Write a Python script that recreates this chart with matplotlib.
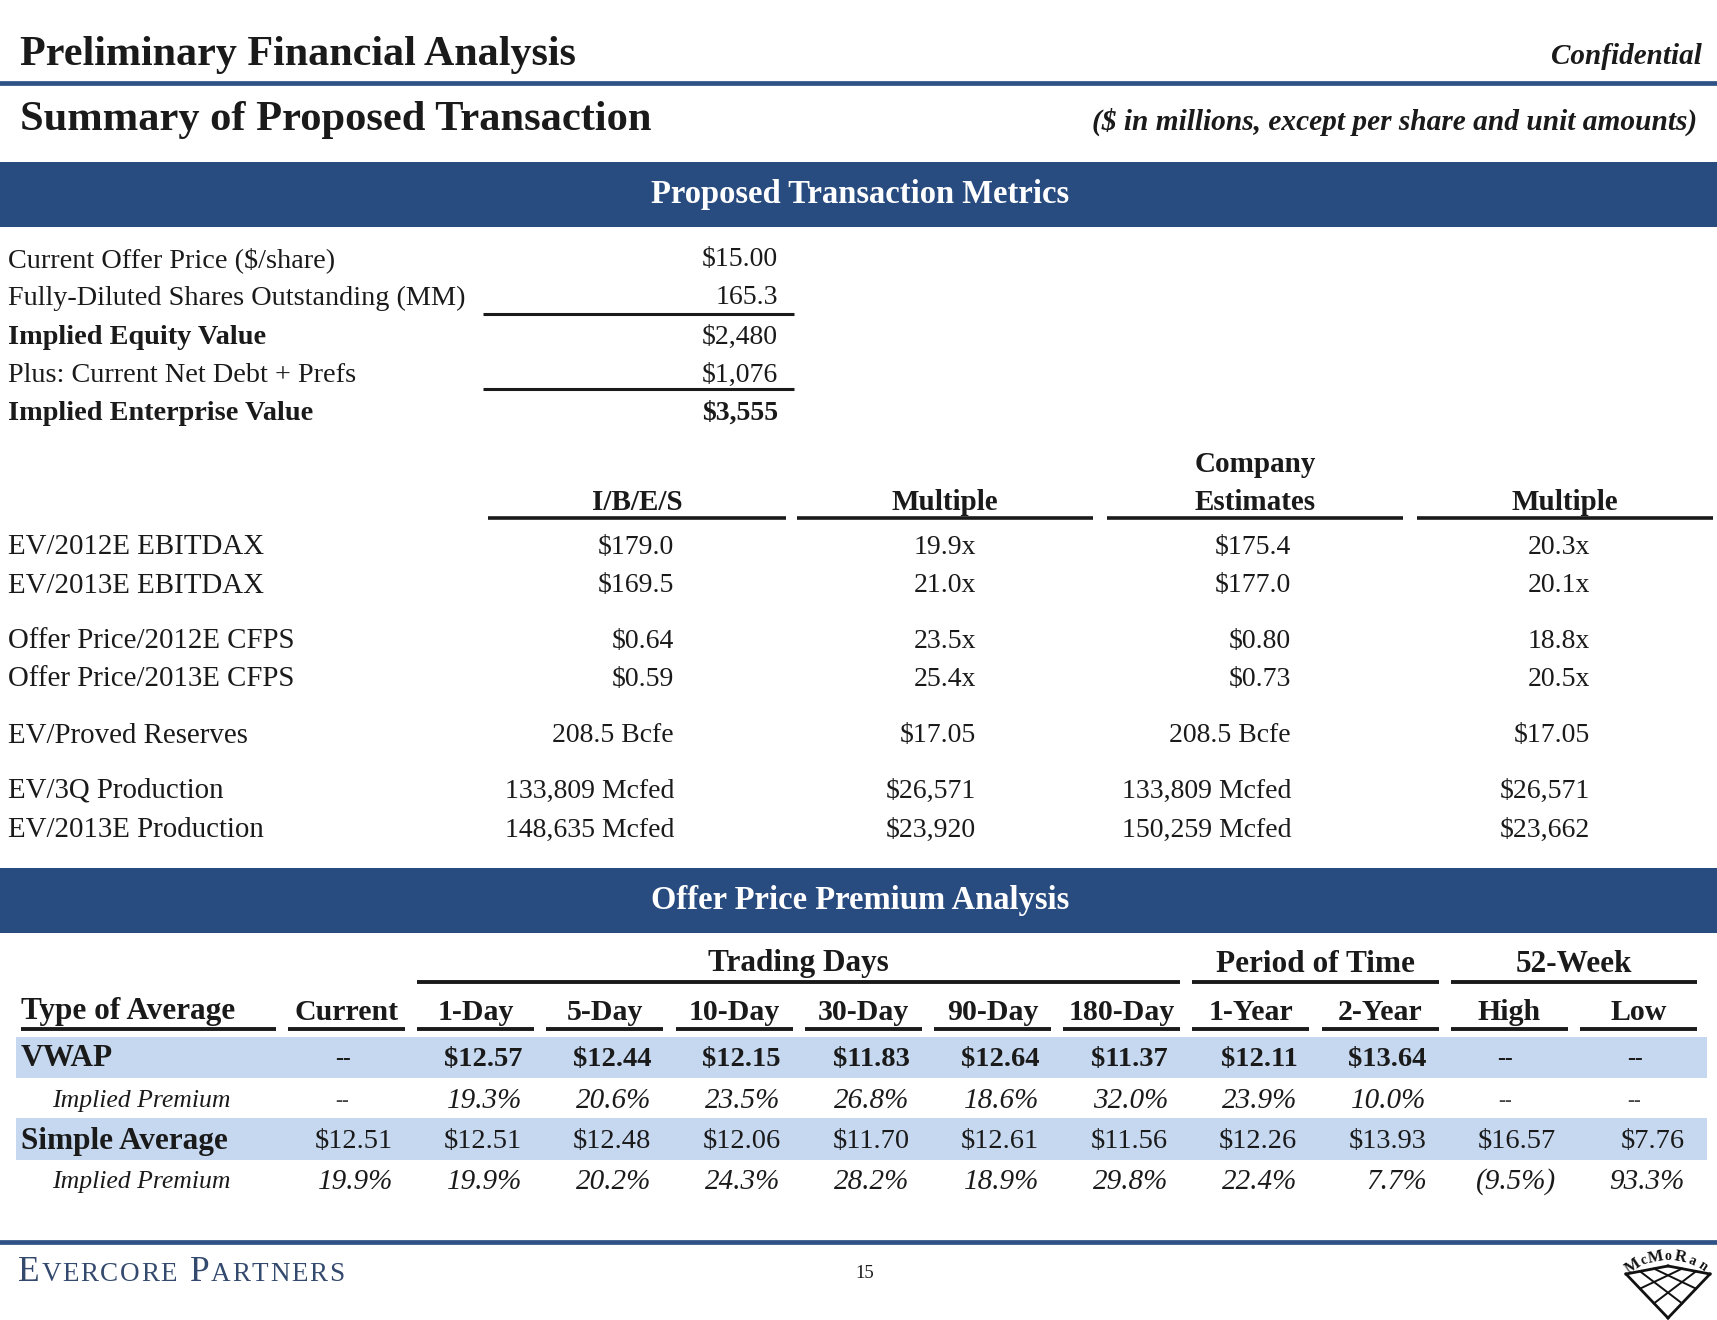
import matplotlib
matplotlib.use("Agg")
import numpy as np
import matplotlib.pyplot as plt
from matplotlib.patches import Rectangle

# ---------------- data ----------------
title = "Preliminary Financial Analysis"
subtitle = "Summary of Proposed Transaction"
conf_text = "Confidential"
units_note = "($ in millions, except per share and unit amounts)"
band1_title = "Proposed Transaction Metrics"
band2_title = "Offer Price Premium Analysis"

top_labels = ["Current Offer Price ($/share)", "Fully-Diluted Shares Outstanding (MM)",
              "Implied Equity Value", "Plus: Current Net Debt + Prefs", "Implied Enterprise Value"]
top_values = ["$15.00", "165.3", "$2,480", "$1,076", "$3,555"]
top_bold_labels = [False, False, True, False, True]
top_bold_values = [False, False, False, False, True]

metric_headers = ["I/B/E/S", "Multiple", "Company\nEstimates", "Multiple"]
metric_labels = ["EV/2012E EBITDAX", "EV/2013E EBITDAX", "Offer Price/2012E CFPS",
                 "Offer Price/2013E CFPS", "EV/Proved Reserves", "EV/3Q Production",
                 "EV/2013E Production"]
ibes_values = ["$179.0", "$169.5", "$0.64", "$0.59", "208.5 Bcfe", "133,809 Mcfed", "148,635 Mcfed"]
ibes_multiples = ["19.9x", "21.0x", "23.5x", "25.4x", "$17.05", "$26,571", "$23,920"]
company_values = ["$175.4", "$177.0", "$0.80", "$0.73", "208.5 Bcfe", "133,809 Mcfed", "150,259 Mcfed"]
company_multiples = ["20.3x", "20.1x", "18.8x", "20.5x", "$17.05", "$26,571", "$23,662"]

group_headers = ["Trading Days", "Period of Time", "52-Week"]
period_headers = ["Current", "1-Day", "5-Day", "10-Day", "30-Day", "90-Day", "180-Day",
                  "1-Year", "2-Year", "High", "Low"]
row_labels = ["VWAP", "Implied Premium", "Simple Average", "Implied Premium"]
vwap_prices = ["--", "$12.57", "$12.44", "$12.15", "$11.83", "$12.64", "$11.37", "$12.11", "$13.64", "--", "--"]
vwap_premiums = ["--", "19.3%", "20.6%", "23.5%", "26.8%", "18.6%", "32.0%", "23.9%", "10.0%", "--", "--"]
simple_prices = ["$12.51", "$12.51", "$12.48", "$12.06", "$11.70", "$12.61", "$11.56", "$12.26", "$13.93", "$16.57", "$7.76"]
simple_premiums = ["19.9%", "19.9%", "20.2%", "24.3%", "28.2%", "18.9%", "29.8%", "22.4%", "7.7%", "(9.5%)", "93.3%"]

footer_firm = "EVERCORE PARTNERS"
page_number = "15"
logo_text = "McMoRan"

# ---------------- style / layout ----------------
W, H = 1717, 1320
NAVY = "#284b80"
LINE_BLUE = "#2f5286"
LIGHT = "#c6d8f0"
FOOT = "#34496e"
INK = "#1a1a1a"
SERIF = ["Liberation Serif", "DejaVu Serif"]

fig = plt.figure(figsize=(W / 100, H / 100), dpi=100)
ax = fig.add_axes([0, 0, 1, 1])
ax.set_xlim(0, W)
ax.set_ylim(H, 0)
ax.axis("off")


def txt(x, y, s, size, ha="left", bold=False, italic=False, color=INK, va="center", **kw):
    return ax.text(x, y, s, fontsize=size, ha=ha, va=va, family=SERIF,
                   fontweight="bold" if bold else "normal",
                   fontstyle="italic" if italic else "normal", color=color, **kw)


def hline(x0, x1, y, lw=2.2, color=INK):
    ax.plot([x0, x1], [y, y], color=color, lw=lw, solid_capstyle="butt")


# header
txt(20, 55, title, 30.3, bold=True)
txt(1702, 57, conf_text, 21, ha="right", bold=True, italic=True)
ax.plot([0, W], [83, 83], color=LINE_BLUE, lw=3.4)
txt(20, 120, subtitle, 30.6, bold=True)
txt(1697, 122, units_note, 21.2, ha="right", bold=True, italic=True)

# band 1
ax.add_patch(Rectangle((0, 162), W, 65, color=NAVY, lw=0))
txt(860, 195, band1_title, 23.5, ha="center", bold=True, color="white")

# top block
top_rows_y = [260, 298, 337, 375, 413]
for lab, val, bl, bv, y in zip(top_labels, top_values, top_bold_labels, top_bold_values, top_rows_y):
    txt(8, y, lab, 20.3, bold=bl)
    txt(778, y, val, 20, ha="right", bold=bv)
hline(483, 794, 314)
hline(483, 794, 389)

# metrics block
head_spans = [(488, 786), (797, 1093), (1107, 1403), (1417, 1713)]
for (a, b), h in zip(head_spans, metric_headers):
    hline(a, b, 518, lw=2.6)
    lines = h.split("\n")
    for k, line in enumerate(reversed(lines)):
        txt((a + b) / 2, 502 - 38 * k, line, 21, ha="center", bold=True)

metric_rows_y = [547, 586, 641, 679, 736, 791, 830]
col_right = [674, 976, 1291, 1590]
cols = [ibes_values, ibes_multiples, company_values, company_multiples]
for i, (lab, y) in enumerate(zip(metric_labels, metric_rows_y)):
    txt(8, y, lab, 20.8)
    for xr, col in zip(col_right, cols):
        txt(xr, y, col[i], 20, ha="right")

# band 2
ax.add_patch(Rectangle((0, 868), W, 65, color=NAVY, lw=0))
txt(860, 901, band2_title, 23.5, ha="center", bold=True, color="white")

# premium table
col_start0, col_step, col_w = 288, 129.2, 117
col_starts = [col_start0 + i * col_step for i in range(len(period_headers))]
group_cols = [(1, 6), (7, 8), (9, 10)]
for g, (c0, c1) in zip(group_headers, group_cols):
    a, b = col_starts[c0], col_starts[c1] + col_w
    hline(a, b, 982, lw=2.8)
    txt((a + b) / 2, 964, g, 22.5, ha="center", bold=True)

hline(21, 276, 1029, lw=2.8)
txt(21, 1012, "Type of Average", 22.5, bold=True)
for xs, h in zip(col_starts, period_headers):
    hline(xs, xs + col_w, 1029, lw=2.8)
    txt(xs + col_w / 2, 1012, h, 21.5, ha="center", bold=True)

ax.add_patch(Rectangle((16, 1037), 1691, 41, color=LIGHT, lw=0))
ax.add_patch(Rectangle((16, 1118), 1691, 42, color=LIGHT, lw=0))

row_y = [1059, 1101, 1141, 1182]
series = [vwap_prices, vwap_premiums, simple_prices, simple_premiums]
row_bold = [True, False, False, False]
row_italic = [False, True, False, True]
label_bold = [True, False, True, False]
label_x = [21, 52, 21, 52]
label_size = [22.5, 18.5, 22.5, 18.5]
for lab, y, vals, rb, ri, lb, lx, ls in zip(row_labels, row_y, series, row_bold, row_italic,
                                            label_bold, label_x, label_size):
    txt(lx, y, lab, ls, bold=lb, italic=ri)
    for xs, v in zip(col_starts, vals):
        if v == "--":
            txt(xs + col_w / 2 - 4, y, v, 15 if ri else 17, ha="center", bold=rb,
                color="#444444" if ri else INK)
        else:
            txt(xs + col_w - 12, y, v, 21 if ri else 20.5, ha="right", bold=rb, italic=ri)

# footer
ax.plot([0, W], [1242, 1242], color=LINE_BLUE, lw=3.4)
renderer = fig.canvas.get_renderer()
x = 18
for word in footer_firm.split(" "):
    for j, ch in enumerate(word):
        t = txt(x, 1281, ch, 25.5 if j == 0 else 19.5, color=FOOT, va="baseline")
        x += t.get_window_extent(renderer).width + 1.6
    x += 11
txt(865, 1274, page_number, 13.5, ha="center")

# logo: arched name over a lattice
cx, cy, rad = 1668, 1318, 62
letters = list(logo_text)
angles = np.linspace(124, 56, len(letters))
for ch, ang in zip(letters, angles):
    a = np.deg2rad(ang)
    ax.text(cx + rad * np.cos(a), cy - rad * np.sin(a), ch, fontsize=12 if ch.isupper() else 10,
            family=SERIF, fontweight="bold", ha="center", va="center", rotation=ang - 90,
            color="#111111")
L = np.array([1626.0, 1274.0])
T = np.array([1668.0, 1266.0])
R = np.array([1710.0, 1274.0])
B = np.array([1668.0, 1318.0])


def quad(s, t):
    return (1 - s) * (1 - t) * L + s * (1 - t) * T + s * t * R + (1 - s) * t * B


tt = np.linspace(0, 1, 30)
for k in range(4):
    f = k / 3
    p1 = np.array([quad(f, t) for t in tt])
    p2 = np.array([quad(t, f) for t in tt])
    w = 2.0 if k in (0, 3) else 1.4
    ax.plot(p1[:, 0], p1[:, 1], color="#111111", lw=w)
    ax.plot(p2[:, 0], p2[:, 1], color="#111111", lw=w)

fig.savefig("out.png", dpi=100, facecolor="white")
